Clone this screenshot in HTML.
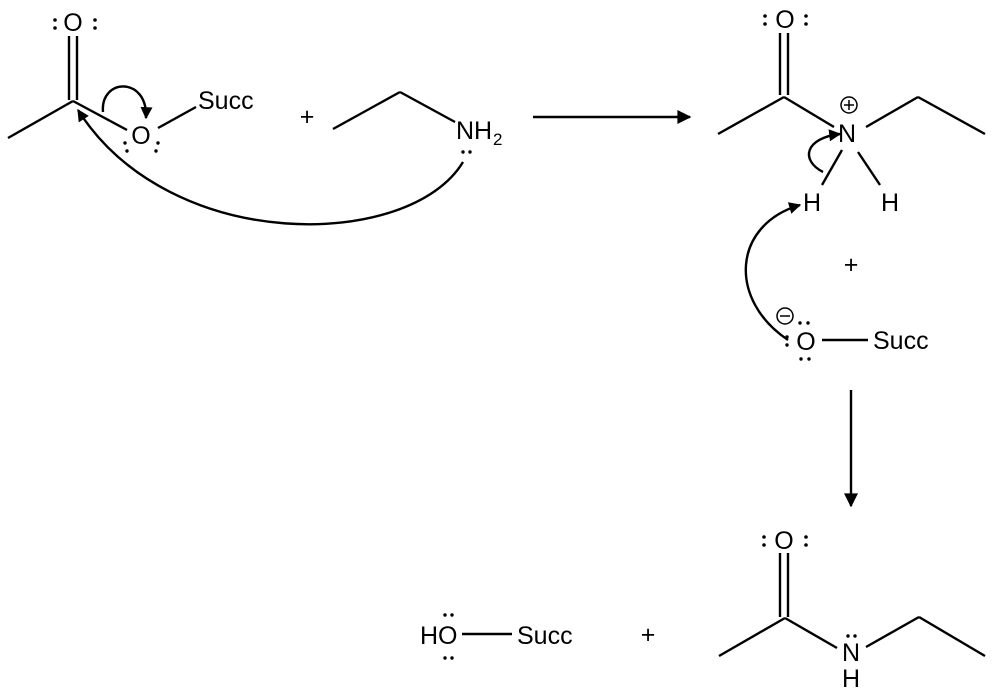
<!DOCTYPE html>
<html><head><meta charset="utf-8"><style>
html,body{margin:0;padding:0;background:#fff;}
svg{display:block}
text{font-family:"Liberation Sans",Arial,sans-serif;font-size:25px;fill:#000}
</style></head><body>
<svg width="1000" height="697" viewBox="0 0 1000 697" xmlns="http://www.w3.org/2000/svg">
<defs>
<marker id="ah" viewBox="0 0 10 10" refX="9" refY="5" markerWidth="16" markerHeight="12" orient="auto" markerUnits="userSpaceOnUse"><path d="M0,0 L10,5 L0,10 z" fill="#000"/></marker>
<marker id="ahb" viewBox="0 0 10 10" refX="9" refY="5" markerWidth="16" markerHeight="14" orient="auto" markerUnits="userSpaceOnUse"><path d="M0,0 L10,5 L0,10 z" fill="#000"/></marker>
</defs>
<g stroke="#000" stroke-width="2.4" fill="none">
<line x1="69" y1="36" x2="69" y2="100"/><line x1="77" y1="36" x2="77" y2="100"/>
<line x1="73" y1="101" x2="8" y2="138"/>
<line x1="73" y1="101" x2="127" y2="130"/>
<line x1="158" y1="128" x2="196" y2="107"/>
<line x1="333" y1="129" x2="400" y2="92"/><line x1="400" y1="92" x2="455" y2="122"/>
<line x1="533" y1="117" x2="690" y2="117" marker-end="url(#ahb)"/>
<line x1="851" y1="390" x2="851" y2="506" marker-end="url(#ahb)"/>
<path d="M103,112 C100,78 148,76 146,118" marker-end="url(#ah)"/>
<path d="M463,162 C410,250 170,255 78,110" marker-end="url(#ah)"/>
<line x1="780" y1="33" x2="780" y2="95"/><line x1="788" y1="33" x2="788" y2="95"/>
<line x1="784" y1="97" x2="718" y2="134"/>
<line x1="784" y1="97" x2="834" y2="127"/>
<line x1="866" y1="127" x2="918" y2="97"/><line x1="918" y1="97" x2="985" y2="134"/>
<line x1="842" y1="150" x2="822" y2="185"/>
<line x1="858" y1="152" x2="880" y2="185"/>
<circle cx="849" cy="105" r="8" stroke-width="1.5"/>
<line x1="844" y1="105" x2="854" y2="105" stroke-width="1.5"/><line x1="849" y1="100" x2="849" y2="110" stroke-width="1.5"/>
<path d="M823,172 C800,160 805,138 840,134" marker-end="url(#ah)"/>
<path d="M788,340 C728,300 732,225 800,205" marker-end="url(#ah)"/>
<circle cx="785" cy="316" r="8" stroke-width="1.5"/>
<line x1="780" y1="316" x2="790" y2="316" stroke-width="1.5"/>
<line x1="822" y1="340" x2="868" y2="340"/>
<line x1="462" y1="634" x2="512" y2="634"/>
<line x1="780" y1="553" x2="780" y2="617"/><line x1="788" y1="553" x2="788" y2="617"/>
<line x1="785" y1="618" x2="719" y2="656"/>
<line x1="785" y1="618" x2="837" y2="648"/>
<line x1="866" y1="647" x2="919" y2="617"/><line x1="919" y1="617" x2="985" y2="656"/>
</g>
<g fill="#000">
<circle cx="55" cy="20" r="1.8"/><circle cx="55" cy="28" r="1.8"/>
<circle cx="95" cy="20" r="1.8"/><circle cx="95" cy="28" r="1.8"/>
<circle cx="125" cy="143" r="1.7"/><circle cx="127" cy="151" r="1.7"/>
<circle cx="158" cy="143" r="1.7"/><circle cx="156" cy="151" r="1.7"/>
<circle cx="463" cy="152" r="1.7"/><circle cx="470" cy="152" r="1.7"/>
<circle cx="765" cy="16" r="1.8"/><circle cx="765" cy="24" r="1.8"/>
<circle cx="806" cy="16" r="1.8"/><circle cx="806" cy="24" r="1.8"/>
<circle cx="800" cy="323" r="1.7"/><circle cx="808" cy="323" r="1.7"/>
<circle cx="787" cy="337" r="1.7"/><circle cx="787" cy="345" r="1.7"/>
<circle cx="801" cy="359" r="1.7"/><circle cx="809" cy="359" r="1.7"/>
<circle cx="445" cy="615" r="1.7"/><circle cx="452" cy="615" r="1.7"/>
<circle cx="445" cy="658" r="1.7"/><circle cx="452" cy="658" r="1.7"/>
<circle cx="764" cy="537" r="1.8"/><circle cx="764" cy="545" r="1.8"/>
<circle cx="806" cy="537" r="1.8"/><circle cx="806" cy="545" r="1.8"/>
<circle cx="848" cy="636" r="1.7"/><circle cx="855" cy="636" r="1.7"/>
</g>
<text x="73" y="31" text-anchor="middle">O</text>
<text x="141" y="144" text-anchor="middle">O</text>
<text x="198" y="109">Succ</text>
<text x="307" y="125" text-anchor="middle">+</text>
<text x="456" y="139">NH</text><text x="493" y="145" style="font-size:17px">2</text>
<text x="785" y="28" text-anchor="middle">O</text>
<text x="847" y="142" text-anchor="middle">N</text>
<text x="812" y="211" text-anchor="middle">H</text>
<text x="890" y="211" text-anchor="middle">H</text>
<text x="851" y="273" text-anchor="middle">+</text>
<text x="806" y="350" text-anchor="middle">O</text>
<text x="873" y="349">Succ</text>
<text x="420" y="644">HO</text>
<text x="517" y="644">Succ</text>
<text x="648" y="643" text-anchor="middle">+</text>
<text x="784" y="549" text-anchor="middle">O</text>
<text x="851" y="661" text-anchor="middle">N</text>
<text x="851" y="687" text-anchor="middle">H</text>
</svg>
</body></html>
